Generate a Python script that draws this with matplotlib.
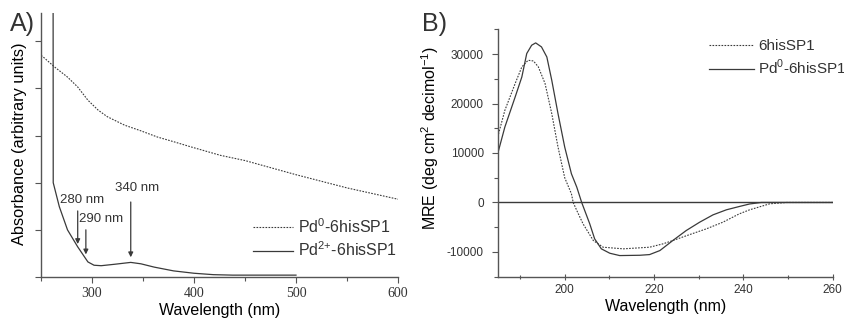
import matplotlib

matplotlib.use("Agg")
import matplotlib.pyplot as plt
from matplotlib.ticker import MultipleLocator

# ── data ──────────────────────────────────────────────────────────────────────

# panel A: UV-vis absorbance (arbitrary units)
pd0_wl = [250, 252, 263, 276, 286, 296, 306, 315, 332, 348, 364, 380, 397, 426, 450, 500, 550, 600]
pd0_abs = [4.70, 4.67, 4.46, 4.24, 4.03, 3.75, 3.54, 3.40, 3.22, 3.10, 2.97, 2.87, 2.76, 2.58, 2.47,
           2.17, 1.89, 1.65]

pd2_wl = [261.8, 262, 268, 276, 286, 296, 302, 309, 322, 338, 348, 361, 380, 400, 419, 438, 460, 500]
pd2_abs = [9.0, 2.0, 1.49, 1.0, 0.64, 0.32, 0.25, 0.24, 0.27, 0.31, 0.28, 0.21, 0.13, 0.08, 0.05,
           0.04, 0.04, 0.04]

arrow_labels = ["280 nm", "290 nm", "340 nm"]
arrow_wl = [286, 294, 338]

# panel B: CD spectra, MRE (deg cm2 decimol-1)
his_wl = [185, 186.6, 188.9, 190.4, 191.8, 193, 194.1, 195.6, 197.1, 198.5, 200, 201.5, 201.9,
          202.7, 204.1, 206.4, 208.6, 213.1, 219, 222, 224.2, 228, 231.7, 235.4, 239.1, 241.4,
          245.9, 249.6, 260]
his_mre = [13220, 18620, 24030, 27390, 28740, 28600, 27390, 24030, 17950, 11200, 5000, 1760, 0,
           -1620, -4310, -7690, -9040, -9370, -9040, -8360, -7690, -6480, -5330, -3990, -2290,
           -1480, -270, 0, 0]

pdhis_wl = [185, 186.6, 188.9, 190.4, 191.5, 192.6, 193.5, 194.8, 196, 197.1, 198.5, 200, 201.5,
            202.7, 203.8, 205.6, 206.7, 208.2, 210.1, 212.3, 216.8, 219, 221.3, 224.2, 227.2,
            230.2, 233.2, 236.2, 239.1, 241.4, 244, 260]
pdhis_mre = [9860, 15240, 21300, 25360, 30100, 31780, 32250, 31440, 29400, 24700, 17950, 11200,
             5800, 3100, 0, -4310, -7350, -9370, -10260, -10730, -10670, -10530, -9720, -7690,
             -5670, -3990, -2500, -1480, -810, -300, 0, 0]

# ── styling ───────────────────────────────────────────────────────────────────

LINE = "#3a3a3a"
AXIS = "#555555"
TEXT = "#333333"
SANS = "Liberation Sans"
SERIF = "Liberation Serif"
DOTTED = (0, (1.5, 1.2))

plt.rcParams["font.family"] = SANS
plt.rcParams["text.color"] = TEXT
plt.rcParams["axes.unicode_minus"] = False
plt.rcParams["mathtext.fontset"] = "custom"
plt.rcParams["mathtext.rm"] = SANS


def _style_axes(ax):
  for side in ("top", "right"):
    ax.spines[side].set_visible(False)
  for side in ("left", "bottom"):
    ax.spines[side].set_color(AXIS)
    ax.spines[side].set_linewidth(1.0)
  ax.tick_params(which="both", color=AXIS, labelcolor=TEXT, direction="out")
  ax.tick_params(which="major", length=4, width=0.8)
  ax.tick_params(which="minor", length=3, width=0.8)


def _px(x, y):
  """Figure fraction from pixel position (origin top left) on the 845x324 canvas."""
  return x / 845, 1 - y / 324


fig = plt.figure(figsize=(8.45, 3.24), dpi=100)

# ── panel A ───────────────────────────────────────────────────────────────────

axA = fig.add_axes([0.0485, 0.145, 0.4225, 0.815])
_style_axes(axA)
axA.plot(pd0_wl, pd0_abs, color=LINE, lw=0.8, ls=DOTTED, label="Pd$^{0}$-6hisSP1")
axA.plot(pd2_wl, pd2_abs, color=LINE, lw=0.9, label="Pd$^{2{+}}$-6hisSP1")
axA.set_xlim(250, 600)
axA.set_ylim(0, 5.6)
axA.xaxis.set_major_locator(MultipleLocator(100))
axA.xaxis.set_minor_locator(MultipleLocator(50))
axA.yaxis.set_major_locator(MultipleLocator(1))
axA.set_yticklabels([])
for lab in axA.get_xticklabels():
  lab.set_fontfamily(SERIF)
  lab.set_fontsize(10)
axA.set_xlabel("Wavelength (nm)", fontsize=11.5, labelpad=2)
axA.set_ylabel("Absorbance (arbitrary units)", fontsize=11.8)
axA.yaxis.set_label_coords(-0.039, 0.504)

arrow_top = [1.46, 1.06, 1.65]
arrow_tip = [0.64, 0.42, 0.36]
label_pos = [(290.7, 1.63), (309.3, 1.23), (344, 1.89)]
for text, wl, top, tip, (lx, ly) in zip(arrow_labels, arrow_wl, arrow_top, arrow_tip, label_pos):
  axA.annotate("", xy=(wl, tip), xytext=(wl, top),
               arrowprops=dict(arrowstyle="-|>", color=LINE, lw=0.9, mutation_scale=7))
  axA.text(lx, ly, text, fontsize=9.5, ha="center", va="center", color=TEXT)

axA.legend(loc="center left", bbox_to_anchor=_px(253, 238), bbox_transform=fig.transFigure,
           frameon=False, fontsize=11.5, handlelength=2.5, handletextpad=0.3,
           labelspacing=0.3, borderpad=0, borderaxespad=0)

fig.text(0.012, 0.962, "A)", fontsize=18, va="top", ha="left", color=TEXT)

# ── panel B ───────────────────────────────────────────────────────────────────

axB = fig.add_axes([0.589, 0.146, 0.3965, 0.7636])
_style_axes(axB)
axB.axhline(0, color=LINE, lw=1.0)
axB.plot(his_wl, his_mre, color=LINE, lw=0.8, ls=DOTTED, label="6hisSP1")
axB.plot(pdhis_wl, pdhis_mre, color=LINE, lw=0.9, label="Pd$^{0}$-6hisSP1")
axB.set_xlim(185, 260)
axB.set_ylim(-15000, 35000)
axB.xaxis.set_major_locator(MultipleLocator(20))
axB.xaxis.set_minor_locator(MultipleLocator(10))
axB.yaxis.set_major_locator(MultipleLocator(10000))
axB.yaxis.set_minor_locator(MultipleLocator(5000))
axB.tick_params(axis="x", which="both", direction="inout")
axB.tick_params(labelsize=8.5)
axB.tick_params(axis="y", pad=6)
axB.set_xlabel("Wavelength (nm)", fontsize=11.5, labelpad=2)
axB.set_ylabel("MRE (deg cm$^{2}$ decimol$^{-1}$)", fontsize=11.5)
axB.yaxis.set_label_coords(-0.168, 0.56)

axB.legend(loc="center left", bbox_to_anchor=_px(709, 58), bbox_transform=fig.transFigure,
           frameon=False, fontsize=11, handlelength=2.95, handletextpad=0.26,
           labelspacing=0.3, borderpad=0, borderaxespad=0)

fig.text(0.499, 0.962, "B)", fontsize=18, va="top", ha="left", color=TEXT)

fig.savefig("out.png", dpi=100)
